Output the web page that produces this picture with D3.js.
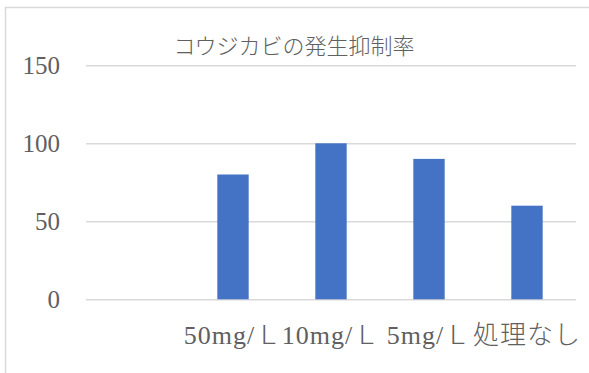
<!DOCTYPE html>
<html>
<head>
<meta charset="utf-8">
<script src="https://d3js.org/d3.v7.min.js"></script>
<style>
  body { margin: 0; background: #fff; }
  svg { display: block; }
</style>
</head>
<body>
<svg id="chart"></svg>
<script>
// data
const categories = ["", "50mg/Ｌ", "10mg/Ｌ", "5mg/Ｌ", "処理なし"];
const values = [null, 80, 100, 90, 60];
const yTicks = [0, 50, 100, 150];
const title = "コウジカビの発生抑制率";

const W = 589, H = 373;
const svg = d3.select("#chart").attr("width", W).attr("height", H);

svg.append("rect").attr("width", W).attr("height", H).attr("fill", "#fff");
// chart frame (only left and top edges fall inside the picture)
svg.append("rect")
  .attr("x", 5.5).attr("y", 7.5)
  .attr("width", W + 20).attr("height", H + 20)
  .attr("fill", "none").attr("stroke", "#d9d9d9").attr("stroke-width", 1.5);

const x = d3.scaleBand().domain(categories).range([86, 576])
  .paddingInner(0.68).paddingOuter(0.34);
const y = d3.scaleLinear().domain([0, 150]).range([299.3, 65.3]);

const font = "'Liberation Serif', 'Noto Sans CJK JP', serif";

// gridlines + y labels
const yAxis = svg.append("g")
  .attr("transform", "translate(86,0)")
  .call(d3.axisLeft(y).tickValues(yTicks).tickSize(-490).tickPadding(26));
yAxis.select(".domain").remove();
yAxis.selectAll("line").attr("stroke", "#d9d9d9").attr("stroke-width", 1.5);
yAxis.selectAll("text")
  .attr("fill", "#606060").style("font-family", font).style("font-size", "25px")
  .style("font-weight", 300);

// bars
svg.append("g").selectAll("rect")
  .data(categories.map((c, i) => ({ c, v: values[i] })).filter(d => d.v != null))
  .enter().append("rect")
  .attr("x", d => x(d.c))
  .attr("y", d => y(d.v))
  .attr("width", x.bandwidth())
  .attr("height", d => y(0) - y(d.v))
  .attr("fill", "#4472c4");

// category labels
const xAxis = svg.append("g")
  .attr("transform", "translate(0,299.3)")
  .call(d3.axisBottom(x).tickSize(0).tickPadding(26));
xAxis.select(".domain").remove();
xAxis.selectAll("text")
  .attr("fill", "#606060").style("font-family", font).style("font-size", "26px")
  .style("font-weight", 300).style("letter-spacing", "1px");

// title
svg.append("text")
  .attr("x", 294).attr("y", 54)
  .attr("text-anchor", "middle")
  .attr("fill", "#606060")
  .style("font-family", "'Noto Sans CJK JP', sans-serif")
  .style("font-size", "22px")
  .style("font-weight", 300)
  .text(title);
</script>
</body>
</html>
